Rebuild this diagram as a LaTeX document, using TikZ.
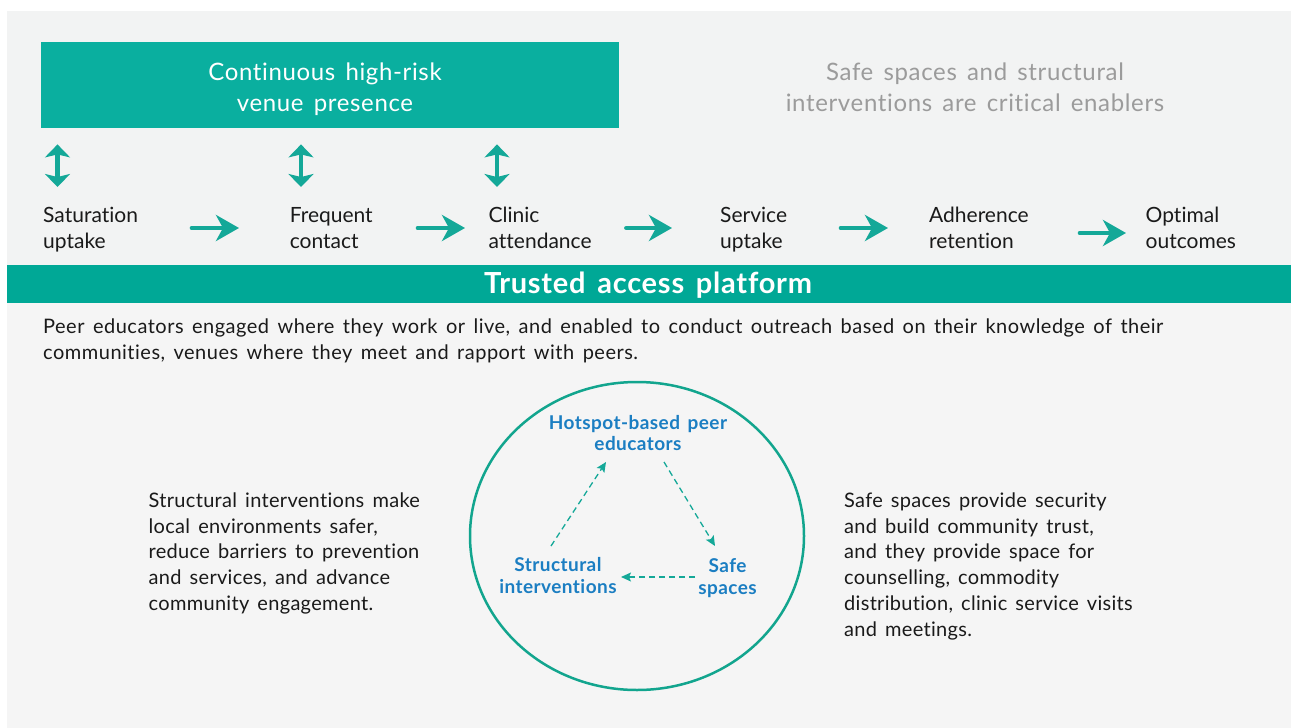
\documentclass[tikz,border=0pt]{standalone}
\usepackage{fontspec}
\setmainfont{Lato}[WordSpace=1.5, Ligatures=NoCommon]
\usetikzlibrary{arrows.meta,calc,shapes.geometric}
\definecolor{boxteal}{HTML}{0AAF9F}
\definecolor{bandteal}{HTML}{00A896}
\definecolor{arrteal}{HTML}{14A898}
\definecolor{ringteal}{HTML}{12A58E}
\definecolor{lblblue}{HTML}{1B7EC2}
\definecolor{titlegray}{HTML}{9B9B9B}
\definecolor{txt}{HTML}{1A1A1A}
\definecolor{bgtop}{HTML}{F2F3F3}
\definecolor{bgbot}{HTML}{F5F5F5}
\tikzset{
  headtext/.style={anchor=base, align=center, inner sep=0pt, font=\fontsize{24}{31}\selectfont\addfontfeatures{LetterSpace=2.7}},
  steplabel/.style={anchor=base west, align=left, inner sep=0pt, text=txt, font=\fontsize{21}{26}\selectfont},
  bodytext/.style={anchor=base west, align=left, inner sep=0pt, text=txt, font=\fontsize{20}{25.8}\selectfont\addfontfeatures{LetterSpace=1.5}},
  ringlabel/.style={anchor=base, align=center, inner sep=0pt, text=lblblue, font=\bfseries\fontsize{19}{21.5}\selectfont\addfontfeatures{LetterSpace=2.3}},
  flowarrow/.style={draw=arrteal, line width=4.7pt, line cap=round, -{Stealth[length=23pt,width=26pt,inset=7pt]}},
  dblarrow/.style={draw=arrteal, line width=4.6pt, {Stealth[length=13pt,width=25pt,inset=3pt]}-{Stealth[length=13pt,width=25pt,inset=3pt]}},
  dasharrow/.style={draw=arrteal, line width=1.3pt, dash pattern=on 6pt off 4pt, -{Stealth[length=10pt,width=9pt,inset=2pt]}}
}
\begin{document}
\begin{tikzpicture}[x=1pt,y=-1pt]
\useasboundingbox (0,0) rectangle (1291,728);
\fill[white] (0,0) rectangle (1291,728);
\fill[bgtop] (7,11) rectangle (1291,265);
\fill[bgbot] (7,303) rectangle (1291,728);

% top box
\node[fill=boxteal, anchor=north west, minimum width=578pt, minimum height=85.7pt, inner sep=0pt] (venue) at (41,42) {};
\node[headtext, text=white] (venuetxt) at (325,111) {Continuous high-risk\\venue presence};
\node[headtext, text=titlegray] (enabler) at (975,111) {Safe spaces and structural\\interventions are critical enablers};

% step labels (base = last line)
\node[steplabel] (sat) at (43,248.7) {Saturation\\uptake};
\node[steplabel] (freq) at (289.6,248.7) {Frequent\\contact};
\node[steplabel] (clin) at (488.4,248.7) {Clinic\\attendance};
\node[steplabel] (serv) at (720,248.7) {Service\\uptake};
\node[steplabel] (adh) at (929,248.7) {Adherence\\retention};
\node[steplabel] (opt) at (1145.5,248.7) {Optimal\\outcomes};

% vertical double arrows
\draw[dblarrow] ($(venue.south -| sat.base west)+(14.5,16.3)$) -- ($(sat.base west)+(14.5,-61.7)$);
\draw[dblarrow] ($(venue.south -| freq.base west)+(11.4,16.3)$) -- ($(freq.base west)+(11.4,-61.7)$);
\draw[dblarrow] ($(venue.south -| clin.base west)+(8.6,16.3)$) -- ($(clin.base west)+(8.6,-61.7)$);

% flow arrows
\draw[flowarrow] ($(sat.base west)+(149,-20.7)$) -- ($(freq.base west)+(-50.6,-20.7)$);
\draw[flowarrow] ($(freq.base west)+(128.4,-20.7)$) -- ($(clin.base west)+(-23.4,-20.7)$);
\draw[flowarrow] ($(clin.base west)+(138,-20.7)$) -- ($(serv.base west)+(-48,-20.7)$);
\draw[flowarrow] ($(serv.base west)+(121,-20.7)$) -- ($(adh.base west)+(-41,-20.7)$);
\draw[flowarrow] ($(adh.base west)+(151,-15.7)$) -- ($(opt.base west)+(-19.5,-15.7)$);

% band
\node[fill=bandteal, anchor=north west, minimum width=1284pt, minimum height=37.7pt, inner sep=0pt] (band) at (7,265) {};
\node[anchor=base, inner sep=0pt, text=white, font=\bfseries\fontsize{29}{32}\selectfont\addfontfeatures{LetterSpace=2.6}] (bandtxt) at (648,293.5) {Trusted access platform};

% paragraph
\node[bodytext, font=\fontsize{20}{25.8}\selectfont\addfontfeatures{LetterSpace=2.5}] (peer) at (43,359.1) {Peer educators engaged where they work or live, and enabled to conduct outreach based on their knowledge of their\\communities, venues where they meet and rapport with peers.};

% side texts
\node[bodytext] (structtxt) at (148.5,610.5) {Structural interventions make\\local environments safer,\\reduce barriers to prevention\\and services, and advance\\community engagement.};
\node[bodytext] (safetxt) at (844,636.3) {Safe spaces provide security\\and build community trust,\\and they provide space for\\counselling, commodity\\distribution, clinic service visits\\and meetings.};

% ring
\node[draw=ringteal, line width=2.5pt, ellipse, minimum width=334pt, minimum height=308pt, inner sep=0pt] (ring) at (637,536) {};
\node[ringlabel] (hot) at (638,450.5) {Hotspot-based peer\\educators};
\node[ringlabel] (struct) at (558,593.2) {Structural\\interventions};
\node[ringlabel] (safe) at (727.5,594.2) {Safe\\spaces};

\draw[dasharrow] ($(hot.base)+(26,11.5)$) -- ($(safe.base)+(-12.5,-48.2)$);
\draw[dasharrow] ($(safe.base)+(-32.5,-17.2)$) -- ($(struct.base)+(63,-16.2)$);
\draw[dasharrow] ($(struct.base)+(-7,-47.2)$) -- ($(hot.base)+(-32,11.5)$);
\end{tikzpicture}
\end{document}
